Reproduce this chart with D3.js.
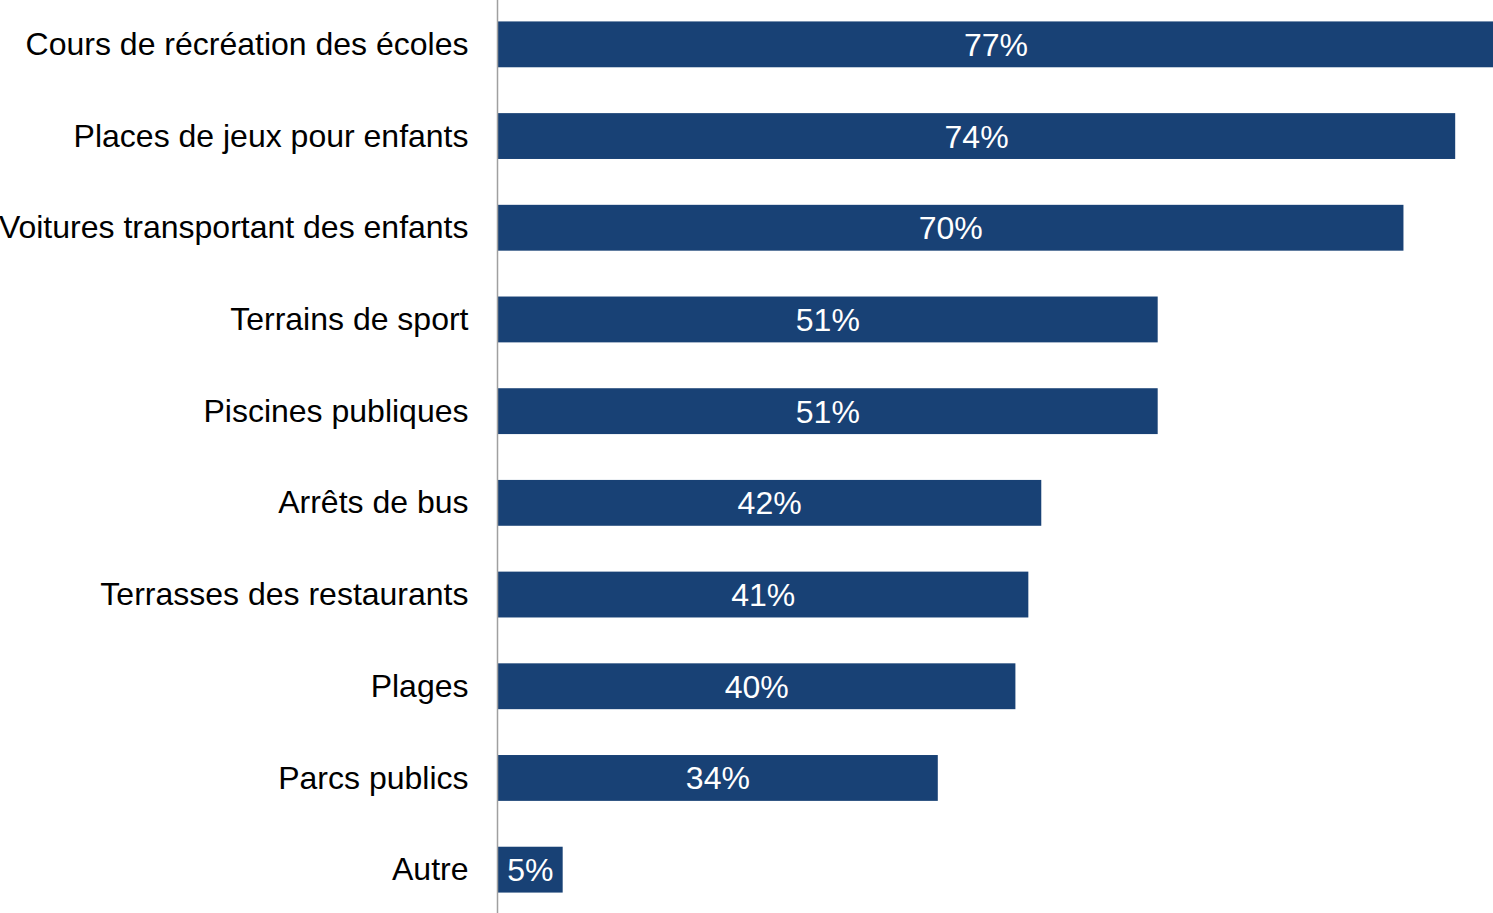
<!DOCTYPE html>
<html>
<head>
<meta charset="utf-8">
<script src="https://cdn.jsdelivr.net/npm/d3@7"></script>
<style>
  html, body { margin: 0; padding: 0; background: #fff; overflow: hidden; }
  svg { display: block; font-family: "Liberation Sans", Arial, sans-serif; }
</style>
</head>
<body>
<div id="plot"><svg></svg></div>
<script>
// Inline data
const categories = [
  "Cours de récréation des écoles",
  "Places de jeux pour enfants",
  "Voitures transportant des enfants",
  "Terrains de sport",
  "Piscines publiques",
  "Arrêts de bus",
  "Terrasses des restaurants",
  "Plages",
  "Parcs publics",
  "Autre"
];
const values = [77, 74, 70, 51, 51, 42, 41, 40, 34, 5];

const data = categories.map((c, i) => ({ cat: c, value: values[i] }));

const width = 1493;
const height = 913;
const axisX = 497.5;

const svg = d3.select("div#plot svg")
  .attr("width", width)
  .attr("height", height);

const x = d3.scaleLinear().domain([0, 77]).range([498, 1494]);
const y = d3.scaleBand()
  .domain(categories)
  .range([-1.5, 915.5])
  .paddingInner(0.5)
  .paddingOuter(0.25);

// bars
svg.selectAll(".bar")
  .data(data)
  .enter()
  .append("rect")
  .attr("class", "bar")
  .attr("x", x(0))
  .attr("y", d => y(d.cat))
  .attr("width", d => x(d.value) - x(0))
  .attr("height", y.bandwidth())
  .attr("fill", "#184175");

// value labels
svg.selectAll(".val")
  .data(data)
  .enter()
  .append("text")
  .attr("class", "val")
  .attr("x", d => (x(0) + x(d.value)) / 2)
  .attr("y", d => y(d.cat) + y.bandwidth() / 2)
  .attr("dy", "0.36em")
  .attr("text-anchor", "middle")
  .attr("fill", "#fff")
  .style("font-size", "32px")
  .text(d => d.value + "%");

// category axis
const axis = svg.append("g")
  .attr("transform", `translate(${axisX},0)`)
  .call(d3.axisLeft(y).tickSize(0).tickPadding(29));

axis.select(".domain").remove();
axis.selectAll("text")
  .attr("fill", "#000")
  .attr("dy", "0.33em")
  .style("font-size", "32px")
  .style("font-family", "'Liberation Sans', Arial, sans-serif");

svg.append("line")
  .attr("x1", axisX).attr("x2", axisX)
  .attr("y1", 0).attr("y2", height)
  .attr("stroke", "#a0a0a0")
  .attr("stroke-width", 1.5);
</script>
</body>
</html>
